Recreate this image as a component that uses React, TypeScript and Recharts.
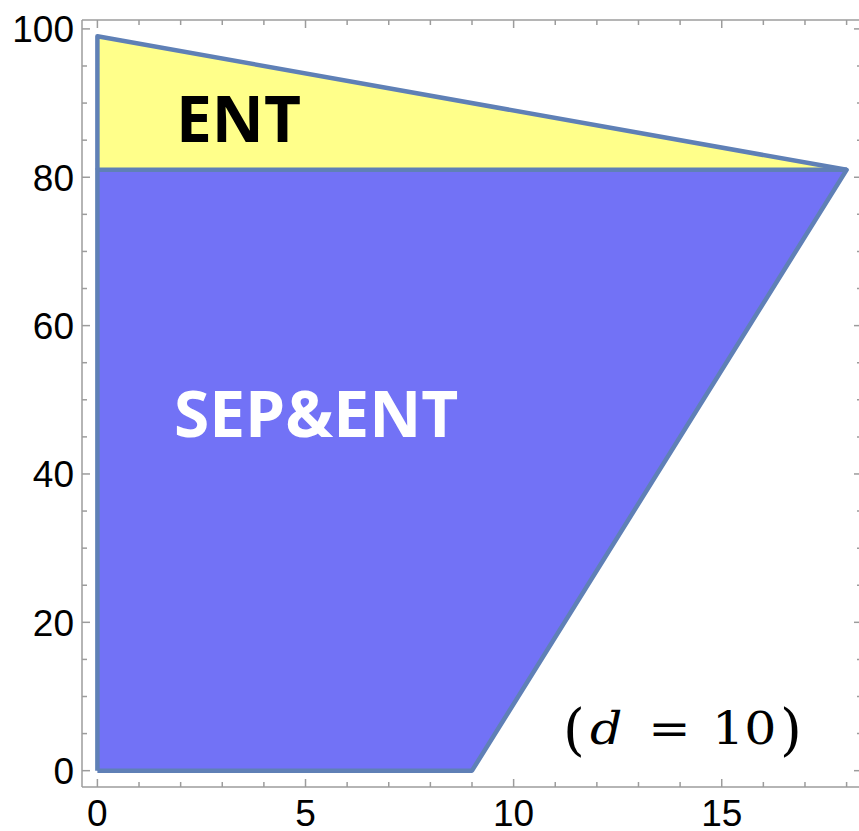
import React from 'react';
import { ComposedChart, Area, Line, XAxis, YAxis } from 'recharts';

// SEP&ENT region (trapezoid), as lower/upper bounds over x
const sepEntX = [0, 9, 18];
const sepEntLow = [0, 0, 81];
const sepEntHigh = [81, 81, 81];

// ENT region (triangle on top)
const entX = [0, 18];
const entLow = [81, 81];
const entHigh = [99, 81];

// region outlines, vertex by vertex
const sepEntEdgeX = [0, 9, 18, 0, 0];
const sepEntEdgeY = [0, 0, 81, 81, 0];
const entEdgeX = [0, 0, 18];
const entEdgeY = [81, 99, 81];

const xTicks = [0, 1, 2, 3, 4, 5, 6, 7, 8, 9, 10, 11, 12, 13, 14, 15, 16, 17, 18];
const xMajor = [0, 5, 10, 15];
const yTicks = [0, 5, 10, 15, 20, 25, 30, 35, 40, 45, 50, 55, 60, 65, 70, 75, 80, 85, 90, 95, 100];
const yMajor = [0, 20, 40, 60, 80, 100];

const sepEntData = sepEntX.map((x, i) => ({ x, range: [sepEntLow[i], sepEntHigh[i]] }));
const entData = entX.map((x, i) => ({ x, range: [entLow[i], entHigh[i]] }));
const sepEntEdge = sepEntEdgeX.map((x, i) => ({ x, y: sepEntEdgeY[i] }));
const entEdge = entEdgeX.map((x, i) => ({ x, y: entEdgeY[i] }));

const FRAME = '#9c9c9c';
const EDGE = '#5f80b6';
const TICK_FONT = '"Liberation Sans", Arial, sans-serif';
const LABEL_FONT = '"Open Sans", sans-serif';
const MATH_FONT = '"DejaVu Serif", serif';

type Side = 'bottom' | 'top' | 'left' | 'right';

// inward tick marks like a framed plot; labels only on bottom/left
const frameTick = (side: Side) => (props: any) => {
  const { x, y, payload } = props;
  const v = payload.value;
  const horizontal = side === 'bottom' || side === 'top';
  const major = horizontal ? xMajor.includes(v) : yMajor.includes(v);
  const len = major ? 8 : 5;
  let line;
  if (side === 'bottom') line = <line x1={x} x2={x} y1={y} y2={y - len} />;
  else if (side === 'top') line = <line x1={x} x2={x} y1={y} y2={y + len} />;
  else if (side === 'left') line = <line x1={x} x2={x + len} y1={y} y2={y} />;
  else line = <line x1={x} x2={x - len} y1={y} y2={y} />;
  return (
    <g>
      <g stroke={FRAME} strokeWidth={1.5}>{line}</g>
      {major && side === 'bottom' && (
        <text x={x} y={y + 26} dy="0.36em" textAnchor="middle" fontSize={37} fontFamily={TICK_FONT} fill="#000">
          {v}
        </text>
      )}
      {major && side === 'left' && (
        <text x={x - 8} y={y} dy="0.36em" textAnchor="end" fontSize={37} fontFamily={TICK_FONT} fill="#000">
          {v}
        </text>
      )}
    </g>
  );
};

const axisCommon = {
  type: 'number' as const,
  allowDataOverflow: true,
  interval: 0 as const,
  tickSize: 0,
  tickMargin: 0,
  tickLine: false,
  axisLine: { stroke: FRAME, strokeWidth: 1.5 },
};

const App = () => {
  return (
    <div style={{ position: 'fixed', left: 0, top: 0, width: 859, height: 831, overflow: 'hidden', background: '#fff' }}>
      <ComposedChart width={870} height={831} margin={{ top: 19, right: 7, bottom: 4, left: 2 }}>
        <XAxis {...axisCommon} xAxisId="b" dataKey="x" domain={[-0.37, 18.37]} ticks={xTicks} height={40} tick={frameTick('bottom')} />
        <XAxis {...axisCommon} xAxisId="t" orientation="top" dataKey="x" domain={[-0.37, 18.37]} ticks={xTicks} height={1} tick={frameTick('top')} />
        <YAxis {...axisCommon} yAxisId="l" domain={[-2.2, 101.2]} ticks={yTicks} width={80} tick={frameTick('left')} />
        <YAxis {...axisCommon} yAxisId="r" orientation="right" domain={[-2.2, 101.2]} ticks={yTicks} width={1} tick={frameTick('right')} />

        <Area xAxisId="b" yAxisId="l" data={sepEntData} dataKey="range" type="linear" stroke="none" fill="#7272f6" fillOpacity={1} isAnimationActive={false} />
        <Area xAxisId="b" yAxisId="l" data={entData} dataKey="range" type="linear" stroke="none" fill="#ffff8a" fillOpacity={1} isAnimationActive={false} />
        <Line xAxisId="b" yAxisId="l" data={sepEntEdge} dataKey="y" type="linear" stroke={EDGE} strokeWidth={4.5} strokeLinejoin="round" dot={false} activeDot={false} isAnimationActive={false} />
        <Line xAxisId="b" yAxisId="l" data={entEdge} dataKey="y" type="linear" stroke={EDGE} strokeWidth={4.5} strokeLinejoin="round" dot={false} activeDot={false} isAnimationActive={false} />
      </ComposedChart>

      {/* region names and parameter note, drawn over the plot */}
      <svg width={859} height={831} style={{ position: 'absolute', left: 0, top: 0, pointerEvents: 'none' }}>
        <text x={176} y={142} fontSize={64} fontWeight={700} fontFamily={LABEL_FONT} fill="#000">ENT</text>
        <text x={174} y={437} fontSize={64} fontWeight={700} fontFamily={LABEL_FONT} fill="#fff">SEP&amp;ENT</text>

        <g fontFamily={MATH_FONT} fill="#000" textAnchor="middle">
          <text x={574} y={749} fontSize={56}>(</text>
          <g transform="translate(681,0) scale(1.15,1) translate(-681,0)">
            <text y={744} fontSize={44}>
              <tspan x={616} fontStyle="italic">d</tspan>
              <tspan x={671}>=</tspan>
              <tspan x={736}>10</tspan>
            </text>
          </g>
          <text x={791} y={749} fontSize={56}>)</text>
        </g>
      </svg>
    </div>
  );
};

export default App;
